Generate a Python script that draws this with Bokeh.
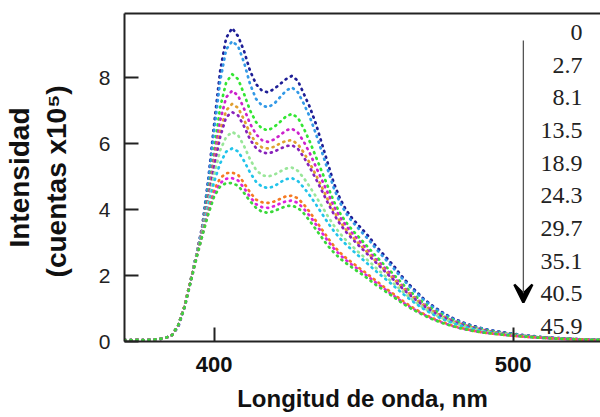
from bokeh.plotting import figure
from bokeh.models import Range1d, LinearAxis, FixedTicker, Label, Arrow, VeeHead, ColumnDataSource
from bokeh.embed import file_html
from bokeh.resources import INLINE

# wavelength grid (nm)
base_x = [370, 372, 374, 376, 378, 380, 382, 384]
base_y = [0.04, 0.04, 0.05, 0.04, 0.05, 0.06, 0.08, 0.12]
wl = list(range(386, 531, 2))

c0 = [0.2, 0.45, 1.0, 1.8, 2.6, 3.5, 4.9, 6.6, 8.2, 9.2,
      9.5, 9.25, 8.8, 8.2, 7.8, 7.6, 7.55, 7.65, 7.8, 7.95,
      8.05, 7.9, 7.5, 7.1, 6.6, 6.0, 5.4, 4.8, 4.35, 4.0,
      3.75, 3.55, 3.35, 3.15, 2.9, 2.7, 2.5, 2.3, 2.06, 1.85,
      1.65, 1.48, 1.3, 1.15, 1.02, 0.9, 0.79, 0.7, 0.62, 0.55,
      0.49, 0.44, 0.39, 0.35, 0.32, 0.29, 0.26, 0.24, 0.21, 0.19,
      0.17, 0.15, 0.13, 0.12, 0.11, 0.1, 0.09, 0.08, 0.07, 0.06,
      0.06, 0.05, 0.05]
c1 = [0.2, 0.5, 1.05, 1.8, 2.6, 3.45, 4.8, 6.4, 7.9, 8.85,
      9.1, 8.95, 8.45, 7.8, 7.35, 7.15, 7.1, 7.2, 7.4, 7.6,
      7.7, 7.55, 7.2, 6.8, 6.3, 5.75, 5.2, 4.65, 4.22, 3.9,
      3.65, 3.45, 3.25, 3.05, 2.82, 2.62, 2.42, 2.22, 2.0, 1.8,
      1.6, 1.44, 1.27, 1.12, 0.99, 0.88, 0.77, 0.68, 0.6, 0.53,
      0.47, 0.42, 0.38, 0.34, 0.31, 0.28, 0.25, 0.23, 0.2, 0.18,
      0.16, 0.14, 0.13, 0.12, 0.11, 0.1, 0.09, 0.08, 0.07, 0.06,
      0.06, 0.05, 0.05]
c2 = [0.2, 0.5, 1.05, 1.8, 2.6, 3.4, 4.5, 5.8, 7.1, 7.85,
      8.1, 7.95, 7.5, 7.0, 6.65, 6.45, 6.4, 6.5, 6.65, 6.82,
      6.9, 6.78, 6.45, 6.05, 5.6, 5.15, 4.7, 4.25, 3.9, 3.62,
      3.4, 3.2, 3.0, 2.8, 2.6, 2.4, 2.22, 2.03, 1.84, 1.65,
      1.48, 1.32, 1.17, 1.04, 0.92, 0.82, 0.72, 0.64, 0.57, 0.5,
      0.45, 0.4, 0.36, 0.32, 0.29, 0.26, 0.24, 0.22, 0.19, 0.17,
      0.15, 0.14, 0.12, 0.11, 0.1, 0.09, 0.08, 0.08, 0.07, 0.06,
      0.05, 0.05, 0.04]
c3 = [0.2, 0.5, 1.05, 1.8, 2.6, 3.4, 4.4, 5.6, 6.7, 7.4,
      7.6, 7.45, 7.05, 6.6, 6.28, 6.1, 6.05, 6.12, 6.25, 6.4,
      6.45, 6.33, 6.05, 5.7, 5.3, 4.9, 4.5, 4.1, 3.78, 3.52,
      3.3, 3.1, 2.9, 2.7, 2.5, 2.32, 2.14, 1.96, 1.77, 1.59,
      1.42, 1.27, 1.13, 1.0, 0.89, 0.79, 0.7, 0.62, 0.55, 0.49,
      0.44, 0.39, 0.35, 0.31, 0.28, 0.26, 0.23, 0.21, 0.19, 0.17,
      0.15, 0.13, 0.12, 0.11, 0.1, 0.09, 0.08, 0.07, 0.07, 0.06,
      0.05, 0.05, 0.04]
c4 = [0.2, 0.5, 1.05, 1.8, 2.6, 3.4, 4.35, 5.4, 6.4, 7.0,
      7.2, 7.08, 6.72, 6.3, 6.02, 5.88, 5.85, 5.9, 6.0, 6.08,
      6.1, 5.98, 5.72, 5.4, 5.05, 4.68, 4.3, 3.95, 3.65, 3.4,
      3.2, 3.0, 2.82, 2.63, 2.44, 2.26, 2.08, 1.9, 1.72, 1.55,
      1.39, 1.24, 1.1, 0.98, 0.87, 0.77, 0.68, 0.6, 0.54, 0.48,
      0.43, 0.38, 0.34, 0.31, 0.28, 0.25, 0.23, 0.21, 0.18, 0.16,
      0.15, 0.13, 0.12, 0.11, 0.1, 0.09, 0.08, 0.07, 0.06, 0.06,
      0.05, 0.05, 0.04]
c5 = [0.2, 0.5, 1.05, 1.8, 2.6, 3.4, 4.3, 5.3, 6.2, 6.8,
      6.95, 6.85, 6.52, 6.12, 5.86, 5.73, 5.7, 5.75, 5.84, 5.92,
      5.95, 5.84, 5.58, 5.27, 4.93, 4.57, 4.2, 3.86, 3.57, 3.33,
      3.13, 2.94, 2.76, 2.58, 2.4, 2.22, 2.04, 1.87, 1.69, 1.52,
      1.36, 1.22, 1.08, 0.96, 0.85, 0.76, 0.67, 0.59, 0.53, 0.47,
      0.42, 0.38, 0.34, 0.3, 0.27, 0.25, 0.22, 0.2, 0.18, 0.16,
      0.14, 0.13, 0.12, 0.1, 0.1, 0.09, 0.08, 0.07, 0.06, 0.06,
      0.05, 0.05, 0.04]
c6 = [0.2, 0.5, 1.05, 1.8, 2.6, 3.35, 4.2, 5.05, 5.8, 6.2,
      6.35, 6.25, 5.92, 5.52, 5.2, 5.04, 5.0, 5.05, 5.15, 5.24,
      5.27, 5.17, 4.95, 4.68, 4.4, 4.1, 3.8, 3.52, 3.28, 3.08,
      2.9, 2.73, 2.57, 2.41, 2.24, 2.08, 1.92, 1.76, 1.6, 1.44,
      1.29, 1.15, 1.02, 0.91, 0.81, 0.72, 0.64, 0.57, 0.51, 0.45,
      0.4, 0.36, 0.32, 0.29, 0.26, 0.24, 0.22, 0.2, 0.18, 0.16,
      0.14, 0.13, 0.11, 0.1, 0.09, 0.09, 0.08, 0.07, 0.06, 0.06,
      0.05, 0.05, 0.04]
c7 = [0.2, 0.5, 1.05, 1.8, 2.6, 3.3, 4.1, 4.85, 5.4, 5.75,
      5.85, 5.76, 5.47, 5.12, 4.84, 4.69, 4.65, 4.7, 4.82, 4.92,
      4.95, 4.86, 4.66, 4.42, 4.16, 3.88, 3.6, 3.35, 3.13, 2.95,
      2.78, 2.62, 2.46, 2.3, 2.14, 1.99, 1.84, 1.69, 1.53, 1.38,
      1.24, 1.11, 0.99, 0.88, 0.78, 0.69, 0.62, 0.55, 0.49, 0.44,
      0.39, 0.35, 0.31, 0.28, 0.26, 0.23, 0.21, 0.19, 0.17, 0.15,
      0.14, 0.12, 0.11, 0.1, 0.09, 0.08, 0.08, 0.07, 0.06, 0.05,
      0.05, 0.05, 0.04]
c8 = [0.2, 0.5, 1.05, 1.8, 2.55, 3.25, 3.95, 4.6, 4.95, 5.1,
      5.12, 5.05, 4.8, 4.52, 4.3, 4.22, 4.2, 4.24, 4.32, 4.4,
      4.42, 4.34, 4.15, 3.92, 3.66, 3.4, 3.14, 2.9, 2.7, 2.54,
      2.4, 2.26, 2.13, 1.99, 1.85, 1.71, 1.57, 1.44, 1.3, 1.17,
      1.05, 0.94, 0.84, 0.75, 0.67, 0.6, 0.53, 0.47, 0.42, 0.38,
      0.34, 0.3, 0.27, 0.25, 0.23, 0.21, 0.19, 0.17, 0.16, 0.14,
      0.13, 0.12, 0.11, 0.1, 0.09, 0.08, 0.07, 0.07, 0.06, 0.05,
      0.05, 0.04, 0.04]
c9 = [0.2, 0.5, 1.0, 1.75, 2.5, 3.2, 3.9, 4.5, 4.8, 4.93,
      4.95, 4.88, 4.65, 4.38, 4.16, 4.07, 4.05, 4.1, 4.18, 4.25,
      4.27, 4.2, 4.02, 3.8, 3.55, 3.3, 3.05, 2.82, 2.63, 2.47,
      2.33, 2.2, 2.07, 1.93, 1.79, 1.66, 1.52, 1.39, 1.26, 1.13,
      1.02, 0.91, 0.82, 0.73, 0.65, 0.58, 0.52, 0.46, 0.41, 0.37,
      0.33, 0.3, 0.27, 0.25, 0.23, 0.21, 0.19, 0.17, 0.16, 0.14,
      0.13, 0.12, 0.11, 0.1, 0.09, 0.08, 0.07, 0.07, 0.06, 0.05,
      0.05, 0.04, 0.04]
c10 = [0.2, 0.5, 1.0, 1.75, 2.5, 3.2, 3.85, 4.4, 4.7, 4.8,
       4.8, 4.72, 4.5, 4.25, 4.05, 3.93, 3.9, 3.95, 4.03, 4.1,
       4.12, 4.05, 3.88, 3.65, 3.4, 3.15, 2.9, 2.7, 2.52, 2.38,
       2.25, 2.12, 2.0, 1.86, 1.72, 1.6, 1.47, 1.35, 1.22, 1.1,
       0.99, 0.89, 0.8, 0.71, 0.64, 0.57, 0.51, 0.46, 0.41, 0.37,
       0.33, 0.3, 0.27, 0.25, 0.23, 0.21, 0.19, 0.18, 0.16, 0.15,
       0.13, 0.12, 0.11, 0.1, 0.09, 0.08, 0.08, 0.07, 0.06, 0.06,
       0.05, 0.05, 0.04]

series = [c0, c1, c2, c3, c4, c5, c6, c7, c8, c9, c10]
colors = ["#1e1e96", "#3399e6", "#33e633", "#cc22cc", "#e0a030", "#8822bb",
          "#99e699", "#22c4ea", "#f57a22", "#dd22dd", "#3ad83a"]

legend_labels = ["0", "2.7", "8.1", "13.5", "18.9", "24.3", "29.7", "35.1", "40.5", "45.9"]
x_ticks = [400, 500]
y_ticks = [0, 2, 4, 6, 8]

p = figure(width=600, height=417,
           x_range=Range1d(370, 529.2), y_range=Range1d(0, 9.94),
           output_backend="svg", toolbar_location=None,
           min_border_left=124, min_border_right=0, min_border_top=13, min_border_bottom=76)
p.outline_line_color = None
p.grid.visible = False
p.background_fill_color = "white"
p.border_fill_color = "white"

for ys, col in zip(series, colors):
    src = ColumnDataSource(dict(x=base_x + wl, y=base_y + ys))
    p.line("x", "y", source=src, line_color=col, line_width=2.7,
           line_dash="1 5", line_cap="round")

# axes
for ax in (p.xaxis[0], p.yaxis[0]):
    ax.axis_line_width = 2
    ax.axis_line_color = "#222222"
    ax.major_tick_line_width = 2
    ax.major_tick_line_color = "#222222"
    ax.major_tick_in = 14
    ax.major_tick_out = 0
    ax.minor_tick_line_color = None

p.xaxis[0].ticker = FixedTicker(ticks=x_ticks)
p.xaxis[0].major_label_text_font = "Liberation Sans"
p.xaxis[0].major_label_text_font_style = "bold"
p.xaxis[0].major_label_text_font_size = "22px"
p.xaxis[0].major_label_text_color = "#111111"
p.xaxis[0].major_label_standoff = 15
p.xaxis[0].axis_label = "Longitud de onda, nm"
p.xaxis[0].axis_label_text_font = "Liberation Sans"
p.xaxis[0].axis_label_text_font_style = "bold"
p.xaxis[0].axis_label_text_font_size = "24px"
p.xaxis[0].axis_label_text_color = "#111111"
p.xaxis[0].axis_label_standoff = 10

p.yaxis[0].ticker = FixedTicker(ticks=y_ticks)
p.yaxis[0].major_label_text_font = "Liberation Sans"
p.yaxis[0].major_label_text_font_size = "21px"
p.yaxis[0].major_label_text_color = "#222222"
p.yaxis[0].major_label_standoff = 14
p.yaxis[0].axis_label = "Intensidad\n(cuentas  x10\u2075)"
p.yaxis[0].axis_label_text_font = "Liberation Sans"
p.yaxis[0].axis_label_text_font_style = "bold"
p.yaxis[0].axis_label_text_font_size = "28px"
p.yaxis[0].axis_label_text_color = "#111111"
p.yaxis[0].axis_label_standoff = 24

top = LinearAxis(ticker=FixedTicker(ticks=[]), axis_line_width=2, axis_line_color="#222222",
                 major_tick_line_color=None, minor_tick_line_color=None,
                 major_label_text_font_size="0px", major_label_standoff=0)
p.add_layout(top, "above")

# concentration list
for i, lab in enumerate(legend_labels):
    p.add_layout(Label(x=523.2, y=9.36 - i * 0.99, text=lab, text_align="right",
                       text_baseline="middle", text_font="Liberation Serif",
                       text_font_size="24px", text_color="#222222"))

p.add_layout(Arrow(x_start=503.4, y_start=9.12, x_end=503.4, y_end=1.18,
                   line_color="#555555", line_width=1.3,
                   end=VeeHead(size=18, fill_color="#000000", line_color="#000000",
                               line_width=2.5)))

open("out.html", "w").write(file_html(p, INLINE))
